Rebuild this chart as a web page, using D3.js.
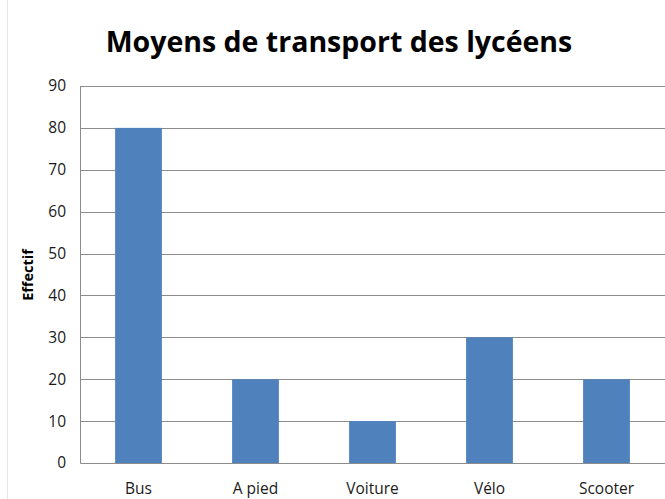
<!DOCTYPE html>
<html>
<head>
<meta charset="utf-8">
<script src="https://cdn.jsdelivr.net/npm/d3@7"></script>
<style>
  body { margin: 0; background: #fff; }
  text { font-family: "Open Sans", "Liberation Sans", sans-serif; }
</style>
</head>
<body>
<svg class="svg_chart" width="665" height="499"></svg>
<script>
// data
var categories = ["Bus", "A pied", "Voiture", "Vélo", "Scooter"];
var values = [80, 20, 10, 30, 20];
var yTicks = [0, 10, 20, 30, 40, 50, 60, 70, 80, 90];
var title = "Moyens de transport des lycéens";
var yLabel = "Effectif";

var svg = d3.select(".svg_chart"),
    margin = {top: 86, right: 0, bottom: 36, left: 80},
    width = +svg.attr("width") - margin.left - margin.right,
    height = +svg.attr("height") - margin.top - margin.bottom,
    g = svg.append("g").attr("transform", "translate(" + margin.left + "," + margin.top + ")");

// faint frame edge on the left
svg.append("line")
    .attr("x1", 7.5).attr("x2", 7.5).attr("y1", 0).attr("y2", 499)
    .attr("stroke", "#e6e6e6");

var x = d3.scaleBand().domain(categories).range([0, width]).paddingInner(0.6).paddingOuter(0.3);
var y = d3.scaleLinear().domain([0, 90]).range([height, 0]);

// gridlines
g.selectAll(".grid")
    .data(yTicks.slice(1))
  .enter().append("line")
    .attr("class", "grid")
    .attr("x1", 0).attr("x2", width)
    .attr("y1", function(d) { return Math.round(y(d)) + 0.5; })
    .attr("y2", function(d) { return Math.round(y(d)) + 0.5; })
    .attr("stroke", "#8c8c8c")
    .attr("stroke-width", 1);

// bars
g.selectAll(".bar")
    .data(values)
  .enter().append("rect")
    .attr("class", "bar")
    .attr("fill", "#4f81bd")
    .attr("x", function(d, i) { return x(categories[i]); })
    .attr("width", x.bandwidth())
    .attr("y", function(d) { return y(d); })
    .attr("height", function(d) { return height - y(d); });

// y axis
var yAxis = g.append("g")
    .call(d3.axisLeft(y).tickValues(yTicks).tickSize(0).tickPadding(14));
yAxis.select(".domain").attr("stroke", "#8c8c8c");
yAxis.selectAll("text")
    .style("font-size", "15.5px")
    .attr("fill", "#1a1a1a");

// x axis
var xAxis = g.append("g")
    .attr("transform", "translate(0," + height + ")")
    .call(d3.axisBottom(x).tickSize(0).tickPadding(20));
xAxis.select(".domain").attr("stroke", "#8c8c8c").attr("d", "M0.5,0.5H" + width);
xAxis.selectAll("text")
    .style("font-size", "15.5px")
    .attr("fill", "#1a1a1a");

// title
svg.append("text")
    .attr("x", 339)
    .attr("y", 52)
    .attr("text-anchor", "middle")
    .style("font-size", "28.5px")
    .style("font-weight", "bold")
    .attr("fill", "#000")
    .text(title);

// y label
svg.append("text")
    .attr("transform", "translate(33,275) rotate(-90)")
    .attr("text-anchor", "middle")
    .style("font-size", "14.5px")
    .style("font-weight", "bold")
    .attr("fill", "#000")
    .text(yLabel);
</script>
</body>
</html>
